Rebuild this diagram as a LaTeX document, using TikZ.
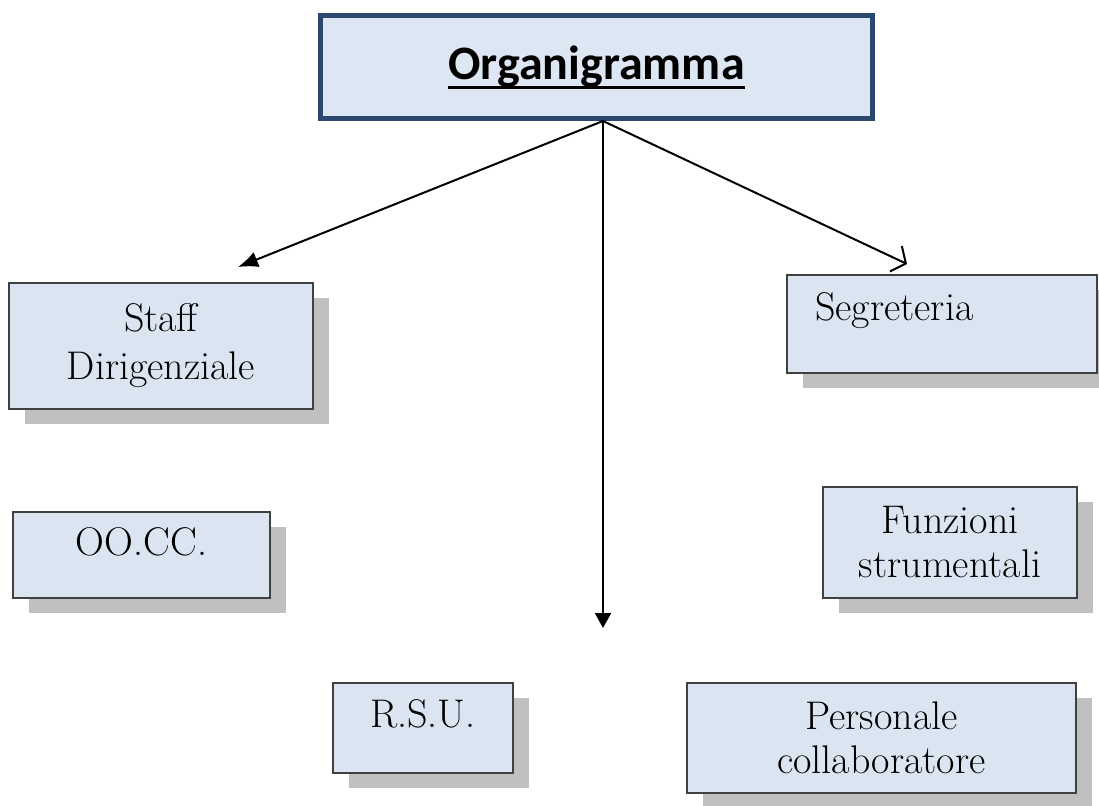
\documentclass[tikz,border=0pt]{standalone}
\usepackage{fontspec}
\newfontfamily\titlefont{Carlito}
\usetikzlibrary{arrows.meta,shadows}
\definecolor{boxblue}{HTML}{DBE5F1}
\definecolor{titleblue}{HTML}{DCE7F3}
\definecolor{titleline}{HTML}{2A4870}
\begin{document}
\begin{tikzpicture}[x=1pt,y=-1pt,
        box/.style={draw=black!75, line width=1.5pt, fill=boxblue, inner sep=0pt, align=center,
          font=\fontsize{40}{44}\selectfont,
          drop shadow={shadow xshift=16pt, shadow yshift=-15pt, fill=black!25, opacity=1}},
        link/.style={line width=2pt}]
        \useasboundingbox (0,0) rectangle (1099,805);
        \node[draw=titleline, line width=5pt, fill=titleblue, minimum width=552pt, minimum height=103pt,
          font=\titlefont\bfseries\fontsize{48}{56}\selectfont] (title) at (596.5,67)
          {\setbox0\hbox{Organigramma}\rlap{\rule[-0.2em]{\wd0}{2.5pt}}\box0};
        \node[box, minimum width=304pt, minimum height=126pt, font=\fontsize{40}{48}\selectfont] (staff) at (161,346) {Staff\\Dirigenziale};
        \node[box, text width=254pt, align=left, inner xsep=28pt, text height=45pt, text depth=53pt] (segr) at (942,324) {Segreteria};
        \node[box, minimum width=257pt, text height=43pt, text depth=43pt] (occ) at (141.5,555) {OO.CC.};
        \node[box, minimum width=254pt, minimum height=111pt] (funz) at (950,542.5) {Funzioni\\strumentali};
        \node[box, minimum width=180pt, text height=44pt, text depth=46pt] (rsu) at (423,728) {R.S.U.};
        \node[box, minimum width=389pt, minimum height=110pt] (pers) at (881.5,738) {Personale\\collaboratore};
        \coordinate (hub) at ([xshift=6.5pt]title.south);
        \coordinate (staffend) at (238,267);
        \coordinate (segrend) at (907,264);
        \coordinate (midend) at (604,628);
        \draw[link, -{Latex[length=20pt,width=16pt]}] (hub) -- (staffend);
        \draw[link, -{Triangle[length=15pt,width=16pt]}] (hub) -- (hub |- midend);
        \draw[link, -{Straight Barb[length=11pt,width=28pt]}] (hub) -- (segrend);
      \end{tikzpicture}
\end{document}
